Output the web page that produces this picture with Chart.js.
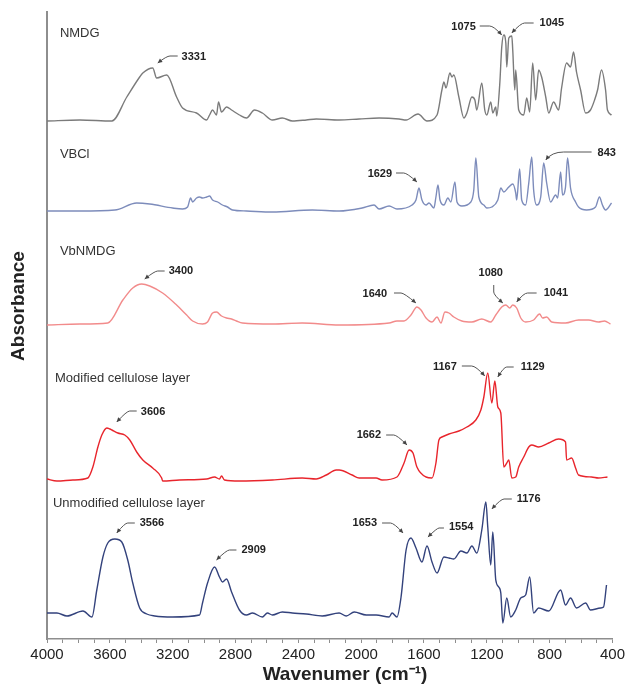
<!DOCTYPE html>
<html lang="en">
<head>
  <meta charset="UTF-8">
  <title>FTIR spectra</title>
  <script src="https://cdn.jsdelivr.net/npm/chart.js@4.4.1/dist/chart.umd.min.js"></script>
  <style>
    body { margin: 0; background: #fff; }
    canvas { display: block; }
  </style>
</head>
<body>
  <canvas id="ftir" width="628" height="688"></canvas>
  <script>
    // [wavenumber cm-1, absorbance (offset, arb. units)]
    const nmdg = [[4000,5.18],[3790,5.19],[3587,5.18],[3492,5.42],[3410,5.62],[3390,5.66],[3327,5.71],[3302,5.61],[3238,5.64],[3175,5.42],
      [3137,5.31],[3048,5.26],[2984,5.19],[2965,5.24],[2946,5.29],[2921,5.24],[2908,5.37],[2889,5.27],[2857,5.32],[2825,5.29],
      [2775,5.24],[2730,5.21],[2679,5.29],[2629,5.26],[2565,5.19],[2502,5.21],[2438,5.18],[2349,5.19],[2286,5.20],[2140,5.19],
      [2013,5.20],[1886,5.21],[1759,5.20],[1714,5.19],[1638,5.25],[1581,5.18],[1517,5.24],[1486,5.49],[1473,5.57],[1460,5.51],
      [1435,5.66],[1422,5.62],[1410,5.64],[1378,5.42],[1346,5.21],[1327,5.26],[1295,5.42],[1276,5.39],[1264,5.29],[1232,5.56],
      [1213,5.29],[1200,5.24],[1175,5.37],[1162,5.26],[1143,5.32],[1137,5.23],[1118,5.54],[1105,5.92],[1092,6.04],[1079,5.96],
      [1073,5.72],[1060,6.01],[1041,6.03],[1035,5.89],[1022,5.49],[1016,5.69],[997,5.29],[965,5.24],[946,5.41],[927,5.27],
      [908,5.76],[889,5.39],[870,5.69],[851,5.62],[825,5.42],[806,5.26],[775,5.37],[743,5.29],[724,5.51],[692,5.76],
      [667,5.72],[648,5.87],[629,5.67],[603,5.49],[571,5.26],[540,5.29],[514,5.39],[495,5.49],[470,5.69],[444,5.49],
      [432,5.29],[406,5.24]];

    const vbcl = [[4000,4.28],[3790,4.28],[3568,4.29],[3429,4.36],[3346,4.35],[3200,4.31],[3137,4.30],[3105,4.32],[3086,4.41],[3073,4.37],
      [3048,4.41],[3029,4.42],[3010,4.41],[2984,4.42],[2965,4.43],[2946,4.39],[2914,4.37],[2883,4.34],[2851,4.32],[2819,4.29],
      [2730,4.28],[2565,4.27],[2311,4.29],[2140,4.28],[1994,4.31],[1918,4.34],[1886,4.30],[1822,4.33],[1772,4.30],[1676,4.34],
      [1651,4.39],[1632,4.51],[1613,4.39],[1587,4.34],[1568,4.36],[1537,4.31],[1524,4.42],[1511,4.54],[1498,4.39],[1473,4.34],
      [1448,4.41],[1429,4.37],[1403,4.57],[1390,4.37],[1359,4.33],[1302,4.37],[1283,4.49],[1270,4.81],[1251,4.42],[1219,4.34],
      [1200,4.31],[1168,4.32],[1130,4.39],[1111,4.51],[1092,4.47],[1060,4.52],[1035,4.55],[1016,4.46],[1010,4.39],[991,4.70],
      [978,4.39],[953,4.34],[933,4.56],[914,4.82],[902,4.49],[883,4.34],[857,4.42],[838,4.76],[819,4.56],[794,4.37],
      [762,4.44],[749,4.41],[730,4.67],[718,4.44],[699,4.52],[686,4.81],[667,4.51],[635,4.37],[616,4.32],[565,4.29],
      [508,4.32],[483,4.42],[464,4.34],[444,4.29],[406,4.36]];

    const vbnmdg = [[4000,3.14],[3790,3.15],[3613,3.16],[3517,3.39],[3454,3.51],[3397,3.55],[3346,3.53],[3264,3.46],[3175,3.34],[3111,3.24],
      [3073,3.18],[3010,3.15],[2978,3.17],[2946,3.26],[2921,3.27],[2889,3.23],[2857,3.21],[2825,3.20],[2794,3.18],[2756,3.16],
      [2565,3.15],[2375,3.16],[2140,3.14],[1822,3.16],[1772,3.18],[1727,3.18],[1683,3.24],[1645,3.32],[1619,3.29],[1587,3.21],
      [1549,3.17],[1517,3.22],[1492,3.16],[1467,3.27],[1441,3.26],[1410,3.22],[1359,3.18],[1295,3.17],[1232,3.20],[1175,3.17],
      [1143,3.24],[1105,3.32],[1079,3.34],[1054,3.31],[1035,3.34],[1010,3.31],[984,3.21],[953,3.17],[902,3.19],[864,3.25],
      [845,3.21],[819,3.22],[787,3.17],[699,3.16],[616,3.19],[552,3.19],[489,3.17],[451,3.18],[413,3.15]];

    const modified = [[4000,1.60],[3937,1.58],[3835,1.59],[3740,1.61],[3708,1.72],[3676,1.92],[3651,2.04],[3619,2.11],[3600,2.10],[3587,2.09],
      [3549,2.06],[3505,2.04],[3473,1.99],[3429,1.87],[3390,1.79],[3327,1.71],[3270,1.61],[3264,1.58],[3156,1.59],[2984,1.60],
      [2933,1.62],[2902,1.60],[2889,1.63],[2870,1.59],[2775,1.58],[2565,1.59],[2375,1.61],[2286,1.60],[2222,1.64],[2159,1.69],
      [2140,1.69],[2057,1.64],[2013,1.61],[1905,1.61],[1867,1.59],[1772,1.62],[1727,1.76],[1695,1.89],[1670,1.86],[1645,1.72],
      [1587,1.62],[1549,1.61],[1524,1.76],[1505,1.99],[1486,2.02],[1441,2.05],[1378,2.08],[1327,2.12],[1270,2.19],[1238,2.29],
      [1219,2.42],[1194,2.66],[1168,2.36],[1149,2.58],[1130,2.32],[1111,2.26],[1092,1.72],[1073,1.76],[1060,1.79],[1041,1.61],
      [1016,1.62],[997,1.72],[965,1.82],[933,1.92],[914,1.94],[870,1.92],[806,1.96],[743,2.00],[699,1.97],[692,1.79],
      [660,1.81],[635,1.71],[616,1.64],[533,1.62],[489,1.61],[432,1.62]];

    const unmodified = [[4000,0.26],[3937,0.26],[3873,0.23],[3771,0.28],[3714,0.22],[3683,0.49],[3644,0.82],[3613,0.96],[3568,1.00],[3524,0.97],
      [3486,0.79],[3454,0.56],[3410,0.31],[3365,0.25],[3314,0.23],[3200,0.22],[3029,0.24],[3010,0.36],[2978,0.56],[2933,0.72],
      [2902,0.62],[2883,0.57],[2857,0.60],[2825,0.47],[2775,0.29],[2730,0.24],[2692,0.26],[2629,0.22],[2597,0.26],[2565,0.24],
      [2502,0.27],[2438,0.26],[2349,0.25],[2248,0.23],[2140,0.26],[2095,0.23],[2044,0.27],[1968,0.24],[1905,0.24],[1822,0.22],
      [1803,0.26],[1772,0.22],[1746,0.42],[1714,0.89],[1683,1.01],[1651,0.91],[1613,0.77],[1581,0.93],[1549,0.77],[1517,0.66],
      [1473,0.82],[1441,0.81],[1410,0.80],[1365,0.88],[1327,0.86],[1295,0.93],[1264,0.86],[1232,1.09],[1206,1.37],[1194,1.12],
      [1175,0.74],[1162,1.07],[1143,0.59],[1124,0.52],[1111,0.46],[1098,0.16],[1073,0.41],[1048,0.22],[1016,0.29],[984,0.41],
      [953,0.44],[927,0.62],[902,0.26],[870,0.31],[806,0.28],[730,0.49],[699,0.34],[667,0.41],[629,0.31],[571,0.36],
      [540,0.29],[476,0.31],[457,0.32],[438,0.54]];

    const seriesNames = ['NMDG', 'VBCl', 'VbNMDG', 'Modified cellulose layer', 'Unmodified cellulose layer'];
    const seriesColors = ['#7b7b7b', '#7d8cbb', '#f28b8b', '#e8252c', '#33427c'];
    const seriesData = [nmdg, vbcl, vbnmdg, modified, unmodified];
    // where each name sits, [wavenumber, absorbance]
    const nameAnchors = [[3918, 6.06], [3918, 4.85], [3918, 3.88], [3949, 2.61], [3962, 1.36]];

    const xTickLabels = [4000, 3600, 3200, 2800, 2400, 2000, 1600, 1200, 800, 400];

    // peak callouts: text spot, then leader path ending at the arrow tip
    const peaks = [
      { text: '3331', at: [3143, 5.82], align: 'left',   path: [[3168, 5.83], [3238, 5.83], [3295, 5.76]] },
      { text: '1075', at: [1270, 6.12], align: 'right',  path: [[1245, 6.13], [1156, 6.13], [1105, 6.04]] },
      { text: '1045', at: [864, 6.16],  align: 'left',   path: [[902, 6.16], [984, 6.16], [1041, 6.06]] },
      { text: '1629', at: [1803, 4.65], align: 'right',  path: [[1778, 4.66], [1708, 4.66], [1645, 4.57]] },
      { text: '843',  at: [495, 4.86],  align: 'left',   path: [[533, 4.87], [787, 4.87], [825, 4.79]] },
      { text: '3400', at: [3225, 3.68], align: 'left',   path: [[3251, 3.68], [3314, 3.68], [3378, 3.60]] },
      { text: '1640', at: [1835, 3.45], align: 'right',  path: [[1791, 3.46], [1727, 3.46], [1651, 3.36]] },
      { text: '1080', at: [1175, 3.66], align: 'center', path: [[1156, 3.54], [1156, 3.44], [1098, 3.36]] },
      { text: '1041', at: [838, 3.46],  align: 'left',   path: [[883, 3.46], [965, 3.46], [1010, 3.37]] },
      { text: '3606', at: [3403, 2.27], align: 'left',   path: [[3429, 2.28], [3492, 2.28], [3556, 2.17]] },
      { text: '1662', at: [1873, 2.04], align: 'right',  path: [[1841, 2.04], [1772, 2.04], [1708, 1.94]] },
      { text: '1167', at: [1391, 2.72], align: 'right',  path: [[1359, 2.73], [1270, 2.73], [1213, 2.63]] },
      { text: '1129', at: [984, 2.72],  align: 'left',   path: [[1029, 2.72], [1092, 2.72], [1130, 2.62]] },
      { text: '3566', at: [3410, 1.16], align: 'left',   path: [[3441, 1.16], [3505, 1.16], [3556, 1.06]] },
      { text: '2909', at: [2762, 0.89], align: 'left',   path: [[2794, 0.89], [2857, 0.89], [2921, 0.79]] },
      { text: '1653', at: [1899, 1.16], align: 'right',  path: [[1867, 1.16], [1791, 1.16], [1733, 1.06]] },
      { text: '1554', at: [1441, 1.12], align: 'left',   path: [[1473, 1.11], [1517, 1.11], [1575, 1.02]] },
      { text: '1176', at: [1010, 1.40], align: 'left',   path: [[1041, 1.40], [1111, 1.40], [1168, 1.30]] }
    ];

    const FONT = '"Liberation Sans", Arial, sans-serif';
    const AXIS_GREY = '#8e8e8e';

    const datasets = seriesData.map((pts, i) => ({
      label: seriesNames[i],
      data: pts.map(p => ({ x: p[0], y: p[1] })),
      borderColor: seriesColors[i],
      borderWidth: 1.4,
      pointRadius: 0,
      cubicInterpolationMode: 'monotone',
      fill: false
    }));

    // names, peak callouts and the two axis titles
    const textPlugin = {
      id: 'ftirText',
      afterDatasetsDraw(chart) {
        const c = chart.ctx;
        const xs = chart.scales.x, ys = chart.scales.y;
        const px = w => xs.getPixelForValue(w);
        const py = a => ys.getPixelForValue(a);
        c.save();

        c.fillStyle = '#333';
        c.font = '13px ' + FONT;
        c.textAlign = 'left';
        c.textBaseline = 'middle';
        seriesNames.forEach((name, i) => {
          c.fillText(name, px(nameAnchors[i][0]), py(nameAnchors[i][1]));
        });

        peaks.forEach(p => {
          const pts = p.path.map(q => [px(q[0]), py(q[1])]);
          const [s, e, t] = pts;
          const bx = s[0] + (e[0] - s[0]) * 0.7, by = s[1] + (e[1] - s[1]) * 0.7;
          c.strokeStyle = '#555';
          c.lineWidth = 1;
          c.beginPath();
          c.moveTo(s[0], s[1]);
          c.lineTo(bx, by);
          c.quadraticCurveTo(e[0], e[1], t[0], t[1]);
          c.stroke();
          // arrow head
          const ang = Math.atan2(t[1] - e[1], t[0] - e[0]);
          c.fillStyle = '#444';
          c.beginPath();
          c.moveTo(t[0], t[1]);
          c.lineTo(t[0] - 5 * Math.cos(ang - 0.45), t[1] - 5 * Math.sin(ang - 0.45));
          c.lineTo(t[0] - 5 * Math.cos(ang + 0.45), t[1] - 5 * Math.sin(ang + 0.45));
          c.closePath();
          c.fill();

          c.fillStyle = '#222';
          c.font = 'bold 11px ' + FONT;
          c.textAlign = p.align;
          c.fillText(p.text, px(p.at[0]), py(p.at[1]));
        });

        c.fillStyle = '#222';
        c.font = 'bold 19px ' + FONT;
        c.textAlign = 'center';
        c.fillText('Wavenumer (cm\u207B\u00B9)', 345, 675);
        c.translate(19, 306);
        c.rotate(-Math.PI / 2);
        c.fillText('Absorbance', 0, 0);
        c.restore();
      }
    };

    new Chart(document.getElementById('ftir'), {
      type: 'line',
      data: { datasets },
      options: {
        responsive: false,
        animation: false,
        layout: { padding: { top: 12, right: 14, left: 0, bottom: 0 } },
        plugins: { legend: { display: false }, tooltip: { enabled: false } },
        scales: {
          x: {
            type: 'linear',
            reverse: true,
            min: 400,
            max: 4000,
            afterFit(scale) { scale.height = 49; },
            ticks: {
              stepSize: 100,
              autoSkip: false,
              maxRotation: 0,
              padding: 3,
              color: '#222',
              font: { family: FONT, size: 15 },
              callback: v => xTickLabels.includes(v) ? String(v) : ''
            },
            grid: { drawOnChartArea: false, drawTicks: true, tickLength: 4, color: AXIS_GREY },
            border: { display: true, color: AXIS_GREY, width: 1.5 }
          },
          y: {
            min: 0,
            max: 6.27,
            afterFit(scale) { scale.width = 47; },
            ticks: { display: false },
            grid: { display: true, drawOnChartArea: false, drawTicks: false },
            border: { display: true, color: AXIS_GREY, width: 2 }
          }
        }
      },
      plugins: [textPlugin]
    });
  </script>
</body>
</html>
